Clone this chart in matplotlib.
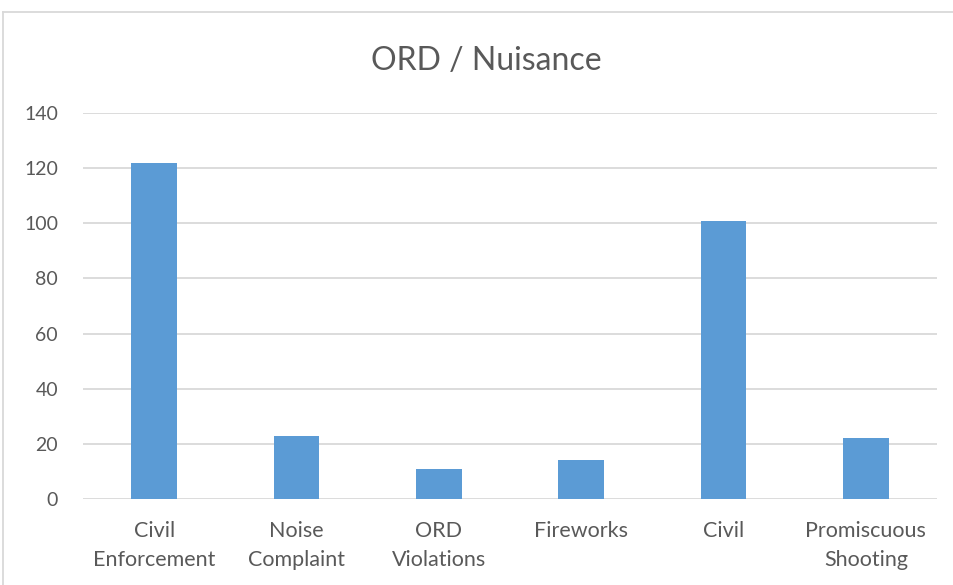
import matplotlib
matplotlib.use("Agg")
import matplotlib.pyplot as plt
from matplotlib.lines import Line2D

categories = ["Civil\nEnforcement", "Noise\nComplaint", "ORD\nViolations", "Fireworks", "Civil", "Promiscuous\nShooting"]
values = [122, 23, 11, 14, 101, 22]
yticks = [0, 20, 40, 60, 80, 100, 120, 140]
title = "ORD / Nuisance"

plt.rcParams['font.family'] = ['Lato', 'DejaVu Sans']
text_color = "#595959"

fig = plt.figure(figsize=(9.54, 5.85), dpi=100)
ax = fig.add_axes([83/954, 1-499/585, (937-83)/954, (499-113)/585])

x = list(range(len(categories)))
ax.bar(x, values, width=0.32, color="#5B9BD5", zorder=3)
ax.set_xlim(-0.5, len(categories)-0.5)
ax.set_ylim(0, 140)
ax.set_yticks(yticks)
ax.set_xticks(x)
ax.set_xticklabels(categories, fontsize=15.5, color=text_color, linespacing=1.55)
ax.tick_params(axis='y', labelsize=14, labelcolor=text_color, length=0, pad=18)
ax.tick_params(axis='x', length=0, pad=16)
ax.grid(axis='y', color="#D9D9D9", linewidth=1.3, zorder=0)
for s in ax.spines.values():
    s.set_visible(False)

fig.text(486/954, 1-61/585, title, ha='center', va='center', fontsize=23, color=text_color)

# outer chart border (top and left visible)
fig.add_artist(Line2D([3/954, 1.0], [1-12/585, 1-12/585], color="#D9D9D9", linewidth=1.3, transform=fig.transFigure))
fig.add_artist(Line2D([3/954, 3/954], [0, 1-12/585], color="#D9D9D9", linewidth=1.3, transform=fig.transFigure))

fig.savefig("out.png", dpi=100)
